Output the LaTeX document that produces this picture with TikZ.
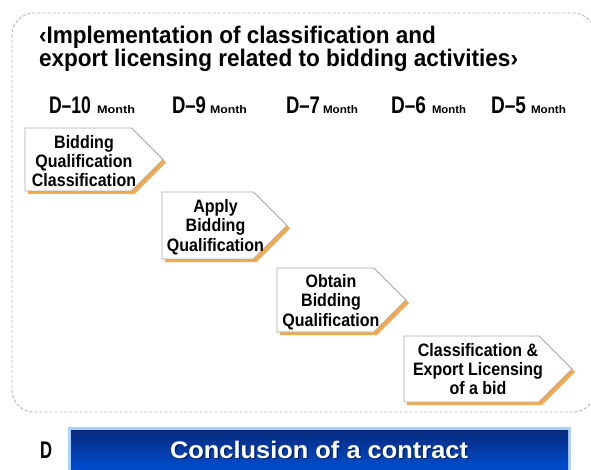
\documentclass[tikz,border=0pt]{standalone}
\usepackage{fontspec}
\usepackage{graphicx}
\setmainfont{Liberation Sans}
\newfontfamily\boxfont[FakeStretch=0.89]{Liberation Sans}
\newcommand\fw[2]{\resizebox{#1pt}{\height}{#2}}
\definecolor{frameg}{HTML}{B4B4B4}
\definecolor{boxg}{HTML}{A8A8A8}
\definecolor{shadowc}{HTML}{F5A94A}
\definecolor{barborder}{HTML}{A9D2FF}
\definecolor{bartop}{HTML}{082A7C}
\definecolor{barmid}{HTML}{0069FF}
\definecolor{barbot}{HTML}{0050D6}
\newcommand\pentbox[4]{%
  \pgfmathsetmacro\pmY{(#2+#3)/2}%
  \pgfmathsetmacro\pcX{#4-(#3-#2)/2}%
  \fill[shadowc,shift={(3,3)}] (#1,#2) -- (\pcX,#2) -- (#4,\pmY) -- (\pcX,#3) -- (#1,#3) -- cycle;
  \draw[pent] (#1,#2) -- (\pcX,#2) -- (#4,\pmY) -- (\pcX,#3) -- (#1,#3) -- cycle;}
\begin{document}
\begin{tikzpicture}[x=1pt,y=-1pt,
  lbl/.style={inner sep=0pt, outer sep=0pt, anchor=base west, font=\bfseries},
  big/.style={lbl, font=\bfseries\fontsize{24}{28}\selectfont},
  small/.style={lbl, font=\bfseries\fontsize{11}{13}\selectfont},
  pent/.style={fill=white, draw=boxg, line width=0.8pt},
  boxtxt/.style={inner sep=0pt, align=center, font=\boxfont\bfseries\fontsize{18}{19.4}\selectfont}]
\useasboundingbox (0,0) rectangle (591,470);
\clip (0,0) rectangle (591,470);
% dashed frame
\draw[frameg, dash pattern=on 3pt off 2pt, line width=0.9pt, rounded corners=22pt] (12,13) rectangle (595,412);
% title
\node[big] (t1) at (39,44) {\fw{397}{‹Implementation of classification and}};
\node[big] (t2) at (39,67) {\fw{479}{export licensing related to bidding activities›}};
% months
\node[big] (d10) at (49,114) {\fw{42}{D–10}};
\node[small] (m10) at (97,114) {\fw{38}{Month}};
\node[big] (d9) at (172,114) {\fw{34}{D–9}};
\node[small] (m9) at (210,114) {\fw{37}{Month}};
\node[big] (d7) at (286,114) {\fw{34}{D–7}};
\node[small] (m7) at (323,114) {\fw{35}{Month}};
\node[big] (d6) at (391,114) {\fw{35}{D–6}};
\node[small] (m6) at (432,114) {\fw{34}{Month}};
\node[big] (d5) at (491,114) {\fw{35}{D–5}};
\node[small] (m5) at (531,114) {\fw{35}{Month}};
% step boxes
\pentbox{25}{128}{191}{163}
\pentbox{162}{192}{259}{287}
\pentbox{277}{268}{332}{406}
\pentbox{404}{336}{402}{572}
\node[boxtxt] (b1) at (84,161) {Bidding\\Qualification\\Classification};
\node[boxtxt] (b2) at (215.5,227) {Apply\\Bidding\\Qualification};
\node[boxtxt] (b3) at (331,302) {Obtain\\Bidding\\Qualification};
\node[boxtxt] (b4) at (478,369) {Classification \&\\Export Licensing\\of a bid};
% bottom bar
\node[big] (dd) at (40,458) {\fw{12}{D}};
\fill[barborder] (68,427) rectangle (571,472);
\shade[top color=bartop, middle color=barmid, bottom color=barbot] (71,430) rectangle (568,472);
\node[big, text=bartop!80!black] (barsh) at (171.5,459.5) {\fw{298}{Conclusion of a contract}};
\node[big, text=white] (bar) at (170,458) {\fw{298}{Conclusion of a contract}};
\end{tikzpicture}
\end{document}
